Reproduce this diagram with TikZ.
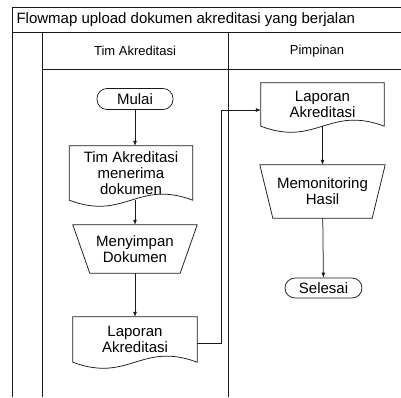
\documentclass[tikz,border=0pt]{standalone}
\usepackage{fontspec}
\setmainfont{Liberation Sans}
\usetikzlibrary{arrows.meta}

\begin{document}
\begin{tikzpicture}[x=1pt,y=-1pt,
        line/.style={draw=black!90,line width=0.75pt},
        flow/.style={line,-{Latex[length=5pt,width=4pt]}},
        lbl/.style={font=\fontsize{15}{16}\selectfont,align=center,inner sep=0pt},
        terminal/.style={lbl,line,rounded corners=10pt,minimum width=76pt,minimum height=21pt},
        docbox/.style={lbl,minimum width=123pt},
        manual/.style={lbl,minimum width=124pt}]
    \useasboundingbox (0,0) rectangle (401,397);
    % swimlane frame
    \draw[line] (12,397) -- (12,7) -- (401,7);
    \draw[line] (12,32) -- (401,32);
    \draw[line] (42,32) -- (42,397);
    \draw[line] (228,32) -- (228,397);
    \draw[line] (42,69) -- (401,69);
    \node[anchor=west,font=\fontsize{15}{16}\selectfont] (title) at (13,20) {Flowmap upload dokumen akreditasi yang berjalan};
    \node[font=\fontsize{13}{14}\selectfont] (laneA) at (135,51) {Tim Akreditasi};
    \node[font=\fontsize{13}{14}\selectfont] (laneB) at (317,51) {Pimpinan};
    % lane Tim Akreditasi
    \node[terminal] (mulai) at (135,99) {Mulai};
    \node[docbox,minimum height=54pt] (terima) at (131,173) {Tim Akreditasi\\menerima\\dokumen};
    \node[manual,minimum height=48pt] (simpan) at (135,249) {Menyimpan\\Dokumen};
    \node[docbox,minimum height=45pt,minimum width=124pt] (lapA) at (135,339.5) {Laporan\\Akreditasi};
    % lane Pimpinan
    \node[docbox,minimum height=43pt] (lapB) at (322.5,104.5) {Laporan\\Akreditasi};
    \node[manual,minimum height=53pt,minimum width=125pt] (monitor) at (322.5,191.5) {Memonitoring\\Hasil};
    \node[terminal,minimum width=77pt,minimum height=20pt] (selesai) at (323.5,288) {Selesai};
    % shapes
    \draw[line] (terima.south west) -- (terima.north west) -- (terima.north east) -- (terima.south east) .. controls +(-55,-21) and +(55,21) .. (terima.south west);
    \draw[line] (lapA.south west) -- (lapA.north west) -- (lapA.north east) -- (lapA.south east) .. controls +(-56,-21) and +(56,21) .. (lapA.south west);
    \draw[line] (lapB.south west) -- (lapB.north west) -- (lapB.north east) -- (lapB.south east) .. controls +(-55,-21) and +(55,21) .. (lapB.south west);
    \draw[line] (simpan.north west) -- (simpan.north east) -- ([xshift=-17pt]simpan.south east) -- ([xshift=17pt]simpan.south west) -- cycle;
    \draw[line] (monitor.north west) -- (monitor.north east) -- ([xshift=-13pt]monitor.south east) -- ([xshift=13pt]monitor.south west) -- cycle;
    % flow
    \draw[flow] (mulai) -- (mulai |- terima.north);
    \draw[flow] (simpan.north |- terima.south) -- (simpan.north);
    \draw[flow] (simpan) -- (lapA);
    \draw[flow] ([yshift=-4pt]lapA.east) -- ++(24,0) |- ([yshift=-5.5pt]lapB.west);
    \draw[flow] (lapB) -- (monitor);
    \draw[flow] (monitor) -- (selesai);
\end{tikzpicture}
\end{document}
